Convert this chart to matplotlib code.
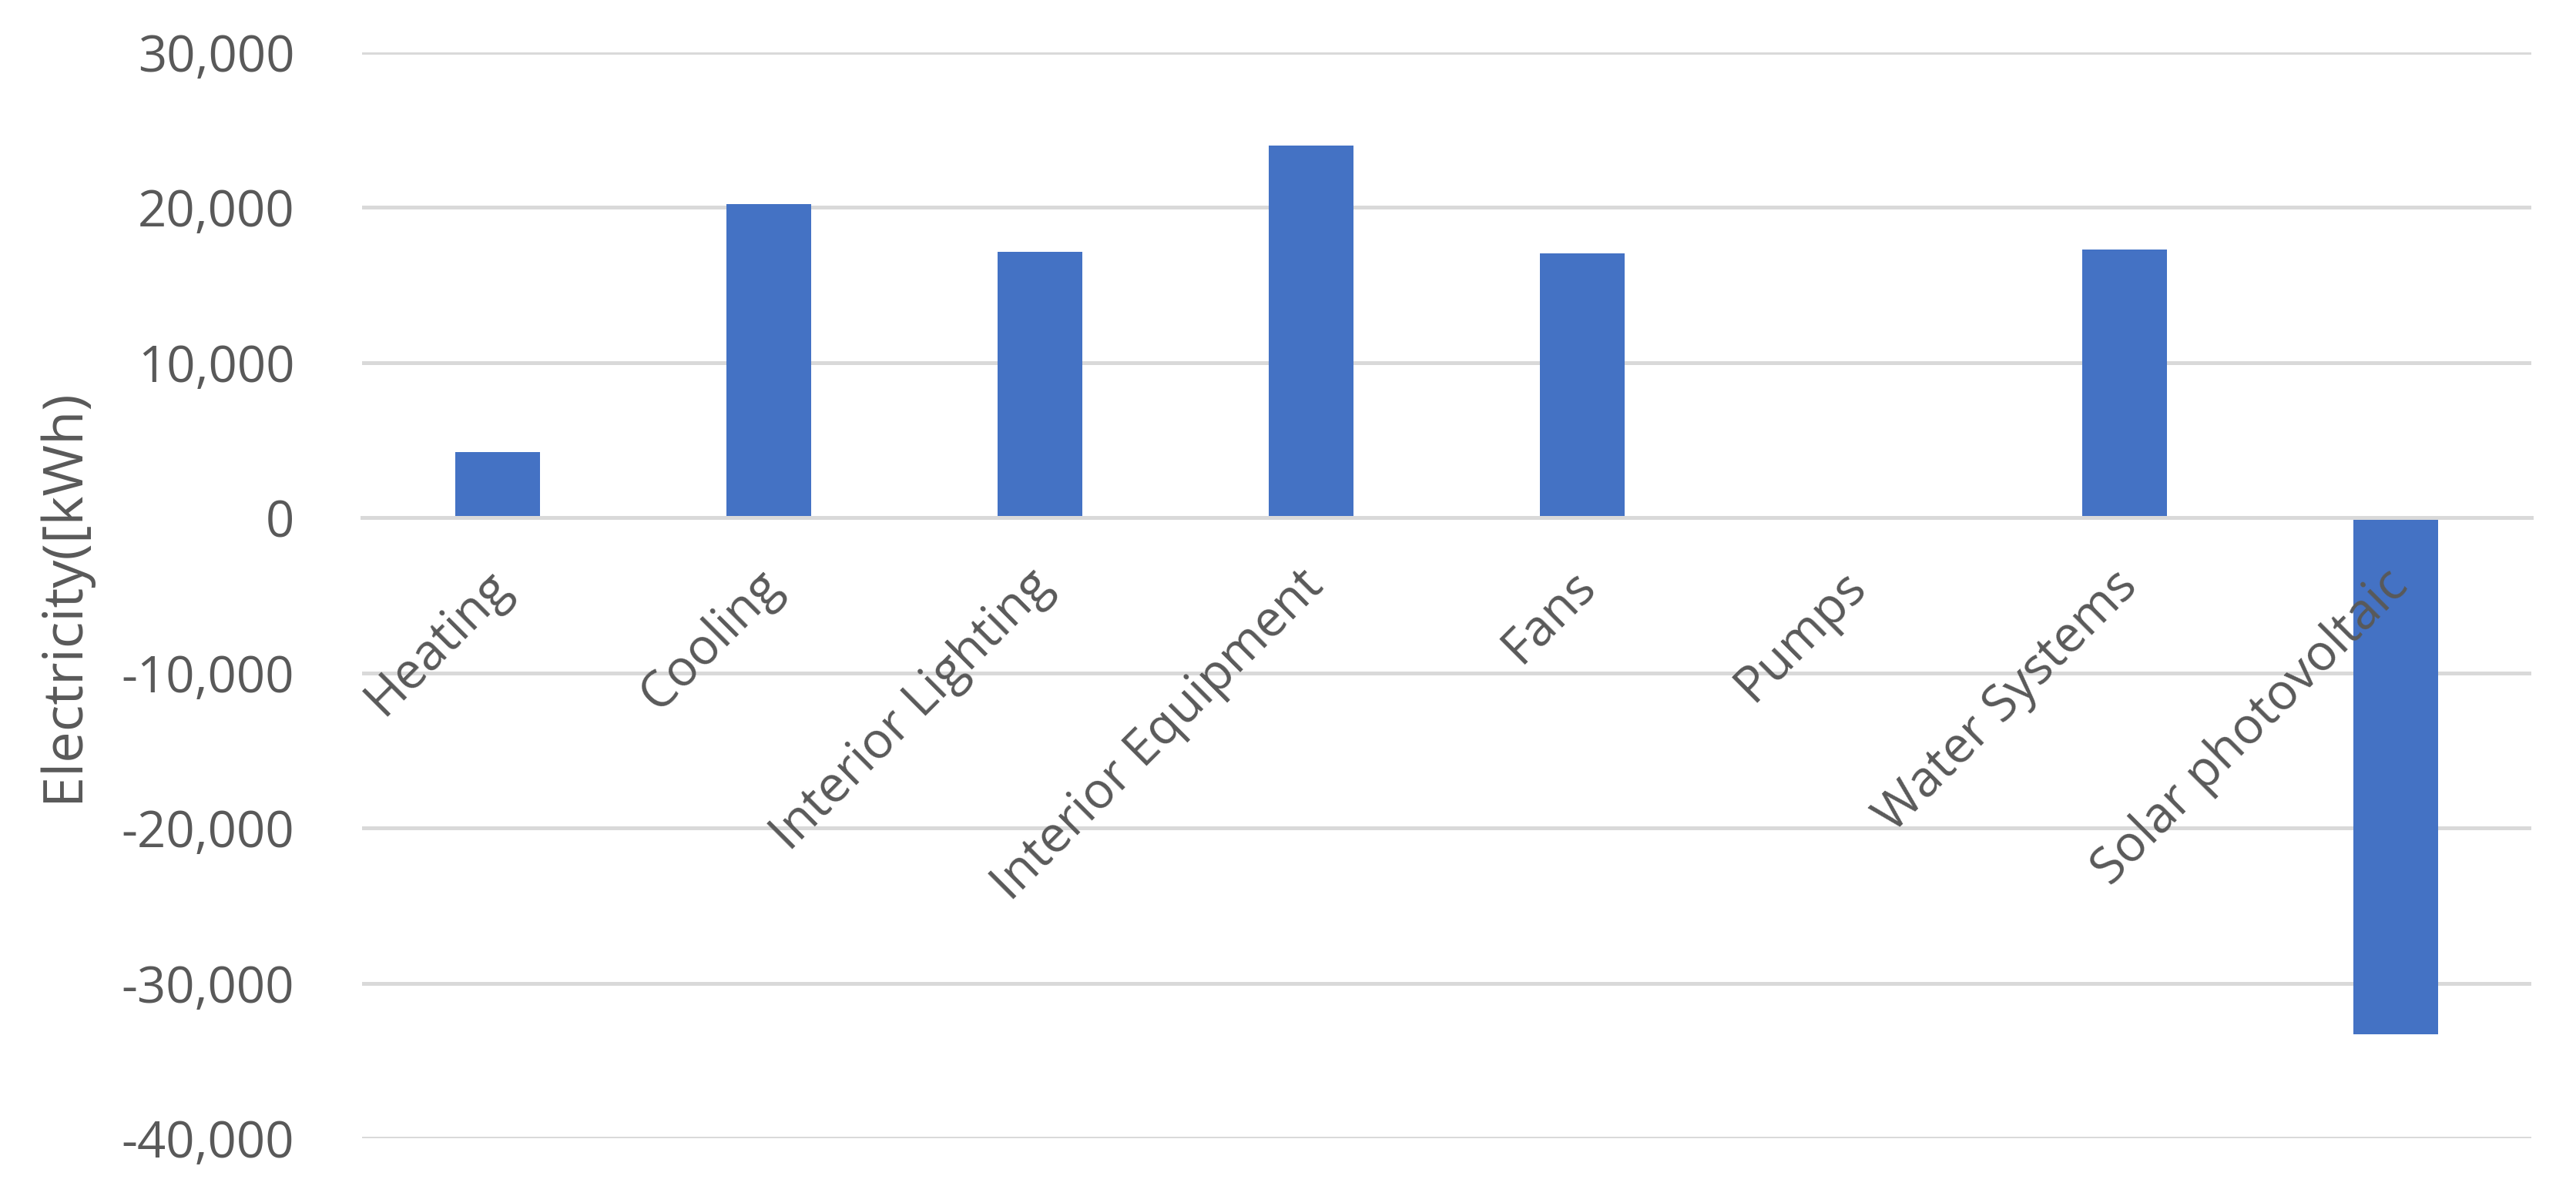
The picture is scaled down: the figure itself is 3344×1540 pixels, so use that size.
import matplotlib.pyplot as plt
from matplotlib.ticker import FuncFormatter
from matplotlib.transforms import ScaledTranslation

categories = ["Heating", "Cooling", "Interior Lighting", "Interior Equipment",
              "Fans", "Pumps", "Water Systems", "Solar photovoltaic"]
electricity_kwh = [4216, 20213, 17166, 23986, 17042, 0, 17290, -33290]
y_ticks = [-40000, -30000, -20000, -10000, 0, 10000, 20000, 30000]

BAR_COLOR = "#4472C4"
GRID_COLOR = "#D9D9D9"
TEXT_COLOR = "#595959"

plt.rcParams["font.family"] = ["Open Sans", "DejaVu Sans"]

fig = plt.figure(figsize=(33.44, 15.4), dpi=100)
ax = fig.add_axes([0.1405, 0.0403, 0.8422, 0.9155])

x = range(len(categories))
ax.bar(x, electricity_kwh, width=0.313, color=BAR_COLOR, zorder=2)

ax.set_xlim(-0.5, len(categories) - 0.5)
ax.set_ylim(y_ticks[0], y_ticks[-1])
ax.set_yticks(y_ticks)
ax.yaxis.set_major_formatter(FuncFormatter(lambda v, p: f"{int(v):,}"))

# gridlines behind the bars, tick labels in front of them
ax.set_axisbelow(False)
for yt in y_ticks:
    ax.axhline(yt, color=GRID_COLOR, linewidth=3.6, zorder=1)

for s in ["top", "right", "left"]:
    ax.spines[s].set_visible(False)
ax.spines["bottom"].set_position(("data", 0))
ax.spines["bottom"].set_color(GRID_COLOR)
ax.spines["bottom"].set_linewidth(3.6)
ax.spines["bottom"].set_zorder(2.6)

ax.tick_params(axis="y", length=0, pad=63, labelsize=47, labelcolor=TEXT_COLOR)
ax.tick_params(axis="x", length=0, pad=40, labelsize=47, labelcolor=TEXT_COLOR)
ax.set_xticks(list(x))
ax.set_xticklabels(categories, rotation=45, ha="right", va="top",
                   rotation_mode="anchor")
shift = ScaledTranslation(-12 / 72, 0, fig.dpi_scale_trans)
for lab in ax.get_xticklabels():
    lab.set_transform(lab.get_transform() + shift)

ax.set_ylabel("Electricity([kWh)", fontsize=52, color=TEXT_COLOR)
ax.yaxis.set_label_coords(-0.125, 0.5)

fig.savefig("out.png", dpi=100)
